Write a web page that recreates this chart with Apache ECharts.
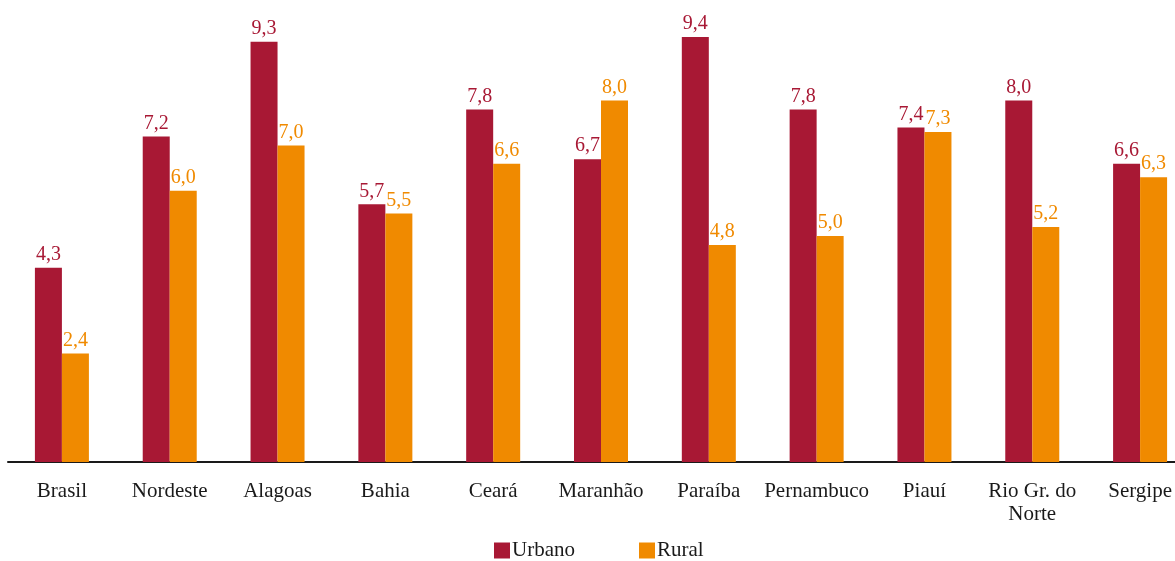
<!DOCTYPE html>
<html>
<head>
<meta charset="utf-8">
<script src="https://cdn.jsdelivr.net/npm/echarts@6/dist/echarts.min.js"></script>
<style>html,body{margin:0;padding:0;background:#fff;overflow:hidden}#c{width:1194px;height:561px}</style>
</head>
<body>
<div id="c"></div>
<script>
const categories = ['Brasil','Nordeste','Alagoas','Bahia','Ceará','Maranhão','Paraíba','Pernambuco','Piauí','Rio Gr. do\nNorte','Sergipe'];
const urbano = [4.3, 7.2, 9.3, 5.7, 7.8, 6.7, 9.4, 7.8, 7.4, 8.0, 6.6];
const rural = [2.4, 6.0, 7.0, 5.5, 6.6, 8.0, 4.8, 5.0, 7.3, 5.2, 6.3];
const seriesNames = ['Urbano', 'Rural'];

const FONT = '"Liberation Serif", "Times New Roman", serif';
const fmt = p => p.value.toFixed(1).replace('.', ',');
const chart = echarts.init(document.getElementById('c'), null, {renderer: 'canvas'});
chart.setOption({
  animation: false,
  textStyle: {fontFamily: FONT},
  grid: {left: 8, right: 0, top: 10, bottom: 99, containLabel: false},
  legend: {
    data: seriesNames,
    left: 494, top: 540, padding: 0,
    icon: 'rect', itemWidth: 16, itemHeight: 16, itemGap: 64,
    textStyle: {fontFamily: FONT, fontSize: 21, color: '#1a1a1a', padding: [0,0,0,-3]}
  },
  xAxis: {
    type: 'category', data: categories,
    axisLine: {lineStyle: {color: '#1a1a1a', width: 2}},
    axisTick: {show: false},
    axisLabel: {fontFamily: FONT, fontSize: 21, color: '#1a1a1a', margin: 18, lineHeight: 23, interval: 0}
  },
  yAxis: {
    type: 'value', min: 0, max: 10,
    show: false, splitLine: {show: false}
  },
  series: [
    {
      name: seriesNames[0], type: 'bar', data: urbano, barWidth: 27, barGap: '0%',
      itemStyle: {color: '#A81834'},
      label: {show: true, position: 'top', distance: 3, formatter: fmt, fontFamily: FONT, fontSize: 20, color: '#A81834'}
    },
    {
      name: seriesNames[1], type: 'bar', data: rural, barWidth: 27,
      itemStyle: {color: '#F08A00'},
      label: {show: true, position: 'top', distance: 3, formatter: fmt, fontFamily: FONT, fontSize: 20, color: '#F08A00'}
    }
  ]
});
</script>
</body>
</html>
